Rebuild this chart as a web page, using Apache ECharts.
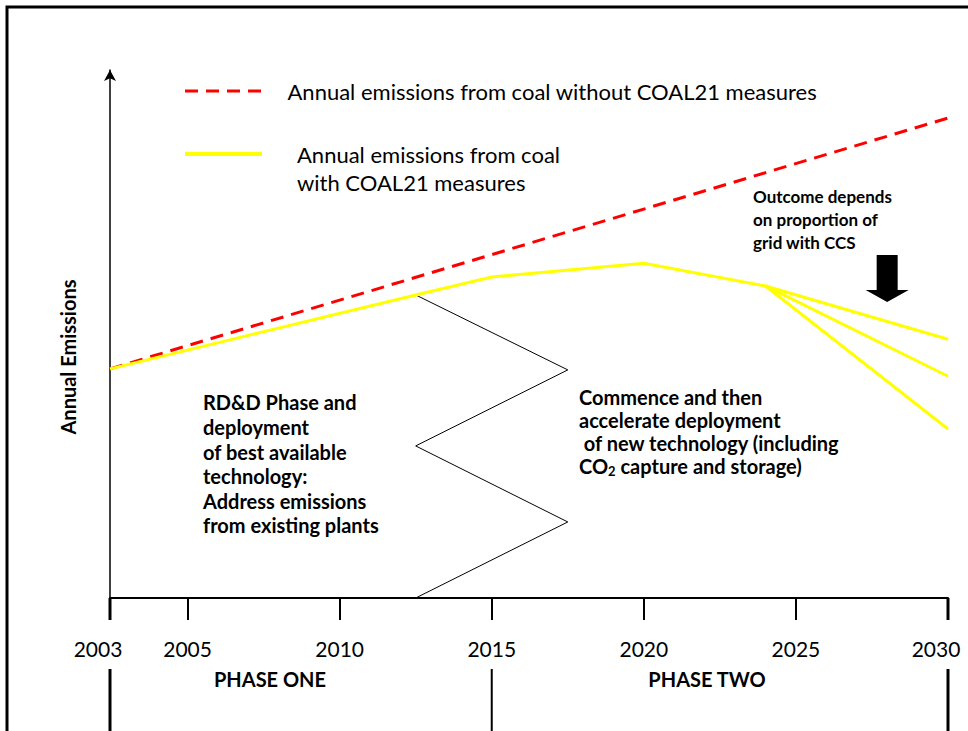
<!DOCTYPE html>
<html><head><meta charset="utf-8">
<script src="https://cdn.jsdelivr.net/npm/echarts@6/dist/echarts.min.js"></script>
<style>html,body{margin:0;padding:0;background:#fff}#c{width:968px;height:731px}</style>
</head><body><div id="c"></div>
<script>
// ---- data ----
const AXIS_START = 2002.45;               // axis origin, labelled "2003"
const tickYears  = [AXIS_START, 2005, 2010, 2015, 2020, 2025, 2030];
const tickLabels = ['2003', '2005', '2010', '2015', '2020', '2025', '2030'];
const phaseNames = ['PHASE ONE', 'PHASE TWO'];
const phaseBounds = [AXIS_START, 2015, 2030];

const nameWithout = 'Annual emissions from coal without COAL21 measures';
const nameWith    = 'Annual emissions from coal with COAL21 measures';

const withoutYears  = [AXIS_START, 2030];
const withoutValues = [43.4, 90.9];

const withYears  = [AXIS_START, 2012.5, 2015, 2020, 2024];
const withValues = [43.4, 57.4, 60.8, 63.4, 59.1];
const outcomeYear   = 2030;
const outcomeValues = [49.0, 42.0, 32.0];

const dividerYears  = [2012.5, 2017.5, 2012.5, 2017.5, 2012.5];
const dividerValues = [57.4, 43.2, 28.8, 14.4, 0];

const arrowYear = 2028, arrowValue = 60.5;

// ---- build ----
const FONT = 'Lato';
const zip = (xs, ys) => xs.map((x, i) => [x, ys[i]]);
const lastYear = withYears[withYears.length - 1];
const lastVal  = withValues[withValues.length - 1];
const yellow = { color: '#ffff00', width: 3 };

const chart = echarts.init(document.getElementById('c'), null, { renderer: 'svg' });

const option = {
  animation: false,
  backgroundColor: '#fff',
  textStyle: { fontFamily: FONT },
  grid: { left: 110, right: 20, top: 70, bottom: 133, containLabel: false, outerBoundsMode: 'none' },
  legend: [
    { data: [nameWithout], left: 185, top: 80, padding: 0, itemWidth: 77, itemHeight: 3,
      icon: 'path://M0,0H13V3H0Z M21,0H34V3H21Z M42,0H55V3H42Z M63,0H76V3H63Z',
      itemStyle: { color: '#ff0000', borderWidth: 0 },
      textStyle: { fontSize: 22, color: '#000', fontFamily: FONT, padding: [0, 0, 0, 21] } },
    { data: [nameWith], left: 185, top: 112, padding: 0, itemWidth: 77, itemHeight: 4,
      icon: 'rect', itemStyle: { color: '#ffff00', borderWidth: 0 },
      formatter: () => '\nAnnual emissions from coal\nwith COAL21 measures',
      textStyle: { fontSize: 22, color: '#000', fontFamily: FONT, lineHeight: 28, padding: [0, 0, 0, 30] } }
  ],
  xAxis: {
    type: 'value', min: AXIS_START, max: 2030,
    axisLine: { lineStyle: { color: '#000', width: 2 } },
    axisTick: { customValues: tickYears, length: 22, lineStyle: { color: '#000', width: 2 } },
    axisLabel: {
      customValues: tickYears, margin: 40, fontSize: 21, color: '#000', fontFamily: FONT,
      formatter: v => {
        let best = 0;
        tickYears.forEach((t, i) => { if (Math.abs(t - v) < Math.abs(tickYears[best] - v)) best = i; });
        const edge = best === 0 || best === tickYears.length - 1;
        return edge ? '{e|' + tickLabels[best] + '}' : tickLabels[best];
      },
      rich: { e: { fontSize: 21, color: '#000', fontFamily: FONT, padding: [0, 24, 0, 0] } }
    },
    splitLine: { show: false }
  },
  yAxis: {
    type: 'value', min: 0, max: 100,
    name: 'Annual Emissions', nameLocation: 'middle', nameGap: 32, nameRotate: 90,
    nameTextStyle: { fontSize: 20, fontWeight: 'bold', color: '#000', fontFamily: FONT, padding: [0, 46, 0, 0] },
    axisLine: { show: true, symbol: ['none', 'arrow'], symbolSize: [9, 11],
      lineStyle: { color: '#000', width: 1.5 } },
    axisTick: { show: false }, axisLabel: { show: false }, splitLine: { show: false }
  },
  series: [
    { name: 'phase divider', type: 'line', symbol: 'none', silent: true,
      data: zip(dividerYears, dividerValues),
      lineStyle: { color: '#000', width: 1 }, z: 1,
      markLine: { symbol: 'none', silent: true, label: { show: false },
        lineStyle: { color: '#000', width: 3, type: 'solid' },
        data: [[{ coord: [2030, 0] }, { coord: [2030, 101] }]] } },
    { name: nameWithout, type: 'line', symbol: 'none', z: 2,
      data: zip(withoutYears, withoutValues),
      itemStyle: { color: '#ff0000' },
      lineStyle: { color: '#ff0000', width: 3, type: [13, 8] } },
    { name: nameWith, type: 'line', symbol: 'none', z: 3,
      data: zip(withYears, withValues).concat([[outcomeYear, outcomeValues[0]]]),
      itemStyle: { color: '#ffff00' }, lineStyle: yellow },
    { name: nameWith, type: 'line', symbol: 'none', z: 3,
      data: [[lastYear, lastVal], [outcomeYear, outcomeValues[1]]],
      itemStyle: { color: '#ffff00' }, lineStyle: yellow },
    { name: nameWith, type: 'line', symbol: 'none', z: 3,
      data: [[lastYear, lastVal], [outcomeYear, outcomeValues[2]]],
      itemStyle: { color: '#ffff00' }, lineStyle: yellow },
    { name: 'outcome arrow', type: 'scatter', silent: true,
      symbol: 'path://M11,0 L32,0 L32,35 L43,35 L21.5,47 L0,35 L11,35 Z',
      symbolSize: [43, 47], itemStyle: { color: '#000', opacity: 1 },
      data: [[arrowYear, arrowValue]] }
  ]
};
chart.setOption(option);

// pixel helpers for decorations tied to the axis
const px = y => chart.convertToPixel({ xAxisIndex: 0 }, y);
const axisY = chart.convertToPixel({ yAxisIndex: 0 }, 0);
const vline = (x, y1, y2, w) => ({ type: 'line', silent: true,
  shape: { x1: x, y1: y1, x2: x, y2: y2 }, style: { stroke: '#000', lineWidth: w } });

const boldText = (left, top, text, size, lh) => ({
  type: 'text', left: left, top: top, silent: true,
  style: { text: text, fontSize: size, fontWeight: 'bold', fontFamily: FONT, fill: '#000', lineHeight: lh }
});

const graphics = [
  { type: 'rect', silent: true, shape: { x: 7, y: 7, width: 1000, height: 800 },
    style: { fill: 'none', stroke: '#000', lineWidth: 3 } },
  vline(px(phaseBounds[0]), axisY, axisY + 22, 3),
  vline(px(phaseBounds[2]), axisY, axisY + 22, 3),
  vline(px(phaseBounds[0]), 669, 731, 3),
  vline(px(phaseBounds[1]), 669, 731, 2),
  vline(px(phaseBounds[2]), 669, 731, 3),
  { type: 'text', silent: true, x: 270, y: 679,
    style: { text: phaseNames[0], fontSize: 20, fontWeight: 'bold', fontFamily: FONT, fill: '#000', align: 'center', verticalAlign: 'middle' } },
  { type: 'text', silent: true, x: 707, y: 679,
    style: { text: phaseNames[1], fontSize: 20, fontWeight: 'bold', fontFamily: FONT, fill: '#000', align: 'center', verticalAlign: 'middle' } },
  boldText(753, 185, 'Outcome depends\non proportion of\ngrid with CCS', 17, 23),
  boldText(203, 390, 'RD&D Phase and\ndeployment\nof best available\ntechnology:\nAddress emissions\nfrom existing plants', 20, 24.6),
  { type: 'text', left: 579, top: 385, silent: true,
    style: {
      text: '{a|Commence and then}\n{a|accelerate deployment}\n{a| of new technology (including}\n{a|CO}{s|2}{a| capture and storage)}',
      fill: '#000', fontFamily: FONT, fontWeight: 'bold', fontSize: 20, lineHeight: 23,
      rich: {
        a: { fontSize: 20, fontWeight: 'bold', fontFamily: FONT, fill: '#000', lineHeight: 23 },
        s: { fontSize: 13, fontWeight: 'bold', fontFamily: FONT, fill: '#000', lineHeight: 23, padding: [10, 0, 0, 0] }
      }
    } }
];
chart.setOption({ graphic: graphics });
</script>
</body></html>
